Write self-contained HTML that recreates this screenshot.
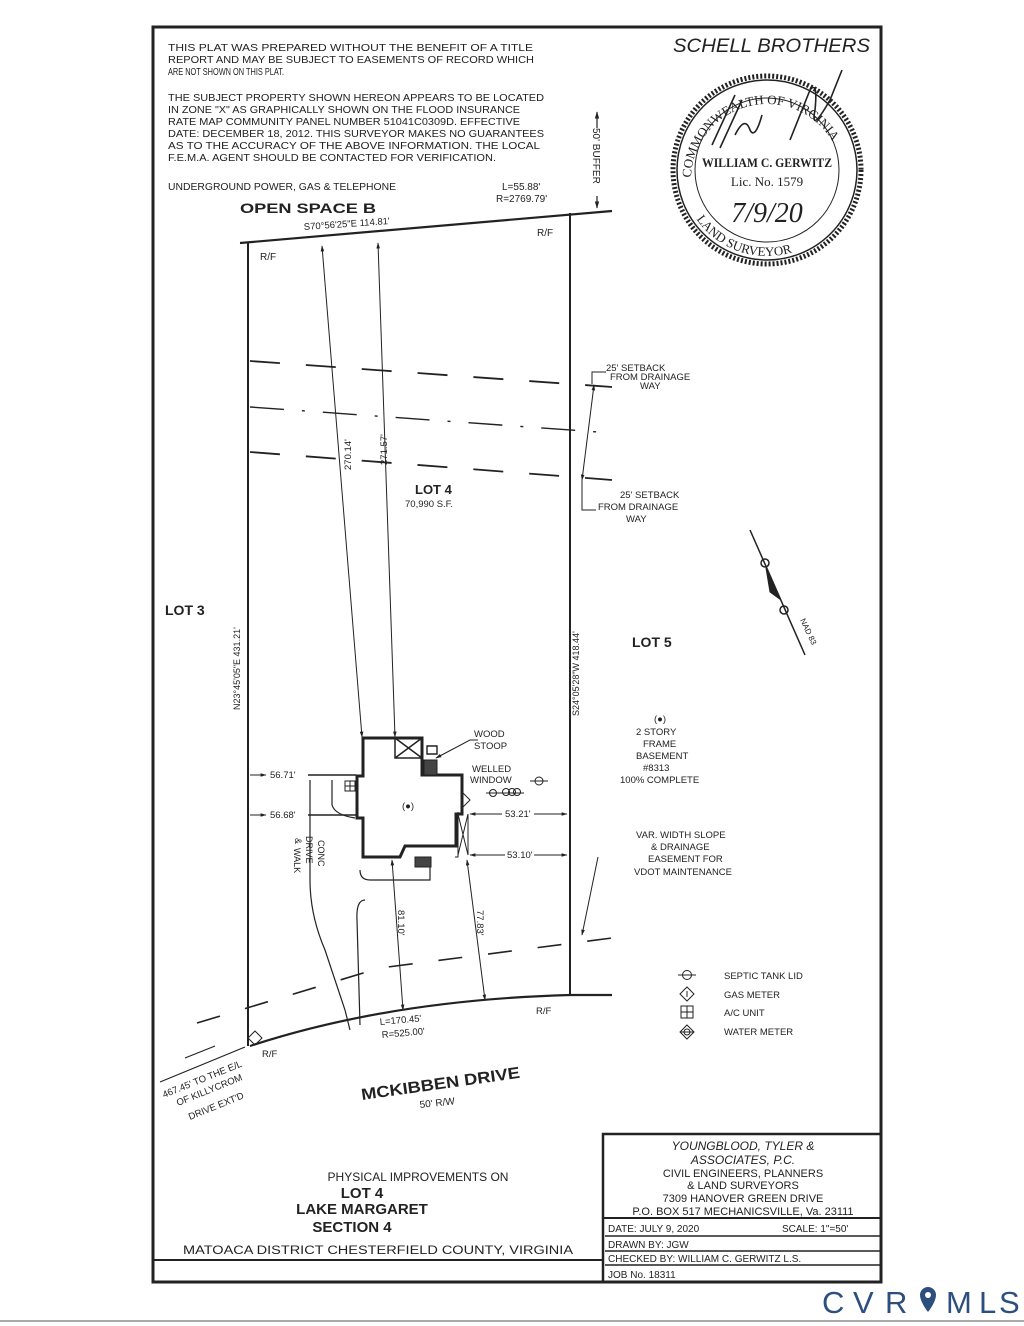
<!DOCTYPE html>
<html><head><meta charset="utf-8"><style>
html,body{margin:0;padding:0;background:#fff;}
svg{display:block;}
text{font-family:"Liberation Sans",sans-serif;fill:#222;}
</style></head><body>
<svg width="1024" height="1326" viewBox="0 0 1024 1326" xmlns="http://www.w3.org/2000/svg">
<defs>
<marker id="ah" viewBox="0 0 10 10" refX="9" refY="5" markerWidth="6" markerHeight="6" orient="auto-start-reverse"><path d="M0,2 L10,5 L0,8 z" fill="#222"/></marker>
</defs>
<rect x="0" y="0" width="1024" height="1326" fill="#fff"/>
<rect x="153" y="27" width="728" height="1255" fill="none" stroke="#222" stroke-width="3"/>
<line x1="0" y1="1321" x2="1024" y2="1321" stroke="#aaa" stroke-width="2"/>

<g font-size="10.5">
<text x="168" y="51" textLength="365" lengthAdjust="spacingAndGlyphs">THIS PLAT WAS PREPARED WITHOUT THE BENEFIT OF A TITLE</text>
<text x="168" y="63" textLength="366" lengthAdjust="spacingAndGlyphs">REPORT AND MAY BE SUBJECT TO EASEMENTS OF RECORD WHICH</text>
<text x="168" y="75" font-size="10" textLength="116" lengthAdjust="spacingAndGlyphs">ARE NOT SHOWN ON THIS PLAT.</text>
<text x="168" y="101" textLength="376" lengthAdjust="spacingAndGlyphs">THE SUBJECT PROPERTY SHOWN HEREON APPEARS TO BE LOCATED</text>
<text x="168" y="113" textLength="352" lengthAdjust="spacingAndGlyphs">IN ZONE "X" AS GRAPHICALLY SHOWN ON THE FLOOD INSURANCE</text>
<text x="168" y="125" textLength="352" lengthAdjust="spacingAndGlyphs">RATE MAP COMMUNITY PANEL NUMBER 51041C0309D. EFFECTIVE</text>
<text x="168" y="137" textLength="376" lengthAdjust="spacingAndGlyphs">DATE: DECEMBER 18, 2012. THIS SURVEYOR MAKES NO GUARANTEES</text>
<text x="168" y="149" textLength="372" lengthAdjust="spacingAndGlyphs">AS TO THE ACCURACY OF THE ABOVE INFORMATION. THE LOCAL</text>
<text x="168" y="161" textLength="328" lengthAdjust="spacingAndGlyphs">F.E.M.A. AGENT SHOULD BE CONTACTED FOR VERIFICATION.</text>
<text x="168" y="190" textLength="228" lengthAdjust="spacingAndGlyphs">UNDERGROUND POWER, GAS &amp; TELEPHONE</text>
<text x="502" y="190" font-size="10">L=55.88'</text>
<text x="496" y="202" font-size="10">R=2769.79'</text>
</g>
<text x="240" y="213" font-size="14" font-weight="bold" textLength="136" lengthAdjust="spacingAndGlyphs">OPEN SPACE B</text>
<text x="304" y="230" font-size="9.5" transform="rotate(-4 304 230)">S70°56'25"E  114.81'</text>
<text x="537" y="236" font-size="10">R/F</text>
<text x="260" y="260" font-size="10">R/F</text>

<line x1="597" y1="112" x2="597" y2="208" stroke="#222" stroke-width="1.2" marker-start="url(#ah)" marker-end="url(#ah)"/>
<rect x="591" y="128" width="12" height="68" fill="#fff"/>
<text x="0" y="0" font-size="10" transform="translate(593,128) rotate(90)">50' BUFFER</text>

<text x="673" y="52" font-size="19" font-style="italic" textLength="197" lengthAdjust="spacingAndGlyphs">SCHELL BROTHERS</text>
<circle cx="767" cy="170" r="94" fill="none" stroke="#222" stroke-width="5" stroke-dasharray="2 2"/>
<circle cx="767" cy="170" r="90" fill="none" stroke="#222" stroke-width="1.5"/>
<circle cx="767" cy="170" r="72" fill="none" stroke="#222" stroke-width="1"/>
<path id="arcT" d="M691,180 A76,76 0 0 1 843,180" fill="none"/>
<text font-size="13" style="font-family:'Liberation Serif',serif"><textPath href="#arcT" startOffset="1%">COMMONWEALTH OF VIRGINIA</textPath></text>
<path id="arcB" d="M692.5,213 A86,86 0 0 0 841.5,213" fill="none"/>
<text font-size="13" style="font-family:'Liberation Serif',serif"><textPath href="#arcB" startOffset="4%">LAND     SURVEYOR</textPath></text>
<text x="767" y="167" font-size="13" text-anchor="middle" style="font-family:'Liberation Serif',serif" font-weight="bold" textLength="130" lengthAdjust="spacingAndGlyphs">WILLIAM C. GERWITZ</text>
<text x="767" y="186" font-size="13" text-anchor="middle" style="font-family:'Liberation Serif',serif">Lic. No. 1579</text>
<text x="767" y="222" font-size="28" text-anchor="middle" font-style="italic" style="font-family:'Liberation Serif',serif">7/9/20</text>
<path d="M712,145 L735,95 M720,148 L742,100 M735,135 q10,-20 15,-5 q5,10 12,-15 M790,140 l20,-50 q8,-10 5,20 q-5,25 15,-10 l12,-30" fill="none" stroke="#222" stroke-width="1.6"/>

<g stroke="#222" fill="none">
<line x1="240" y1="243" x2="612" y2="211" stroke-width="2.2"/>
<line x1="248" y1="242" x2="248" y2="1046" stroke-width="2"/>
<line x1="570" y1="213" x2="570" y2="996" stroke-width="2"/>
<path d="M250,1046 Q390,1000 570,995 L612,995" stroke-width="2.2"/>
<path d="M250,361 L612,387" stroke-width="1.8" stroke-dasharray="30 26"/>
<path d="M250,407 L612,433" stroke-width="1.4" stroke-dasharray="34 18 3 18"/>
<path d="M250,452 L612,480" stroke-width="1.8" stroke-dasharray="30 26"/>
<line x1="582" y1="480" x2="594" y2="385" stroke-width="1" marker-start="url(#ah)" marker-end="url(#ah)"/>
<path d="M592,384 V372 H606 M582,480 V510 H596" stroke-width="1"/>
<line x1="322" y1="246" x2="362" y2="737" stroke-width="1" marker-start="url(#ah)" marker-end="url(#ah)"/>
<line x1="378" y1="243" x2="395" y2="737" stroke-width="1" marker-start="url(#ah)" marker-end="url(#ah)"/>
<line x1="392" y1="860" x2="403" y2="1010" stroke-width="1" marker-start="url(#ah)" marker-end="url(#ah)"/>
<line x1="467" y1="860" x2="485" y2="1000" stroke-width="1" marker-start="url(#ah)" marker-end="url(#ah)"/>
<line x1="250" y1="775" x2="266" y2="775" stroke-width="1" marker-end="url(#ah)"/>
<line x1="308" y1="775" x2="356" y2="775" stroke-width="1.4"/>
<line x1="250" y1="815" x2="266" y2="815" stroke-width="1" marker-end="url(#ah)"/>
<line x1="308" y1="815" x2="356" y2="815" stroke-width="1.4"/>
<line x1="470" y1="814" x2="502" y2="814" stroke-width="1" marker-start="url(#ah)"/>
<line x1="534" y1="814" x2="567" y2="814" stroke-width="1" marker-end="url(#ah)"/>
<line x1="470" y1="855" x2="505" y2="855" stroke-width="1" marker-start="url(#ah)"/>
<line x1="534" y1="855" x2="567" y2="855" stroke-width="1" marker-end="url(#ah)"/>
<path d="M197,1023 L380,968 L612,938" stroke-width="1.6" stroke-dasharray="24 26"/>
<line x1="598" y1="857" x2="582" y2="935" stroke-width="1" marker-end="url(#ah)"/>
<path d="M215,1046 L185,1058 M245,1047 L160,1082" stroke-width="1.2"/>
<path d="M310,780 V880 Q310,915 325,950 L345,1010 L350,1030" stroke-width="1.2"/>
<path d="M332,780 V805 Q335,815 355,818" stroke-width="1.2"/>
<path d="M360,870 Q360,880 370,880 L430,880 V864 M365,900 Q356,900 357,920 L360,1025" stroke-width="1.2"/>
<path d="M363,738 H422 V775 H462 V814 H456 V846 L405,846 L400,857 H363 V818 H357 V776 H363 Z" stroke-width="3"/>
<path d="M395,738 V758 H422 M395,738 L422,758 M422,738 L395,758" stroke-width="1.5"/>
<path d="M427,746 H437 V754 H427 Z" stroke-width="1.4"/>
<rect x="424" y="760" width="13" height="15" fill="#444" stroke-width="1"/>
<path d="M458,812 V857 H455 M458,814 L468,855 M458,855 L468,814 L468,855" stroke-width="1"/>
<path d="M405,846 H458" stroke-width="1.5"/>
<rect x="415" y="857" width="16" height="10" fill="#444" stroke-width="1"/>
<path d="M345,781 h10 v10 h-10 z M350,781 v10 M345,786 h10" stroke-width="1"/>
<path d="M462,792 l8,8 l-8,8" stroke-width="1"/>
<path d="M436,758 L470,740 L478,740" stroke-width="1" marker-start="url(#ah)"/>
<line x1="530" y1="781" x2="548" y2="781" stroke-width="1"/><circle cx="539" cy="781" r="4" stroke-width="1"/>
<line x1="486" y1="793" x2="524" y2="793" stroke-width="1"/>
<circle cx="506" cy="792" r="3.5" stroke-width="1"/><circle cx="512" cy="792" r="3.5" stroke-width="1"/><circle cx="517" cy="792" r="3.5" stroke-width="1"/><circle cx="493" cy="793" r="3.5" stroke-width="1"/>
<line x1="678" y1="975" x2="696" y2="975" stroke-width="1"/><circle cx="687" cy="975" r="4.5" stroke-width="1"/>
<path d="M687,987 l7,7 l-7,7 l-7,-7 z M687,991 v6" stroke-width="1"/>
<path d="M681,1006 h12 v12 h-12 z M687,1006 v12 M681,1012 h12" stroke-width="1"/>
<path d="M687,1025 l7,7 l-7,7 l-7,-7 z M680,1032 h14" stroke-width="1"/>
<circle cx="687" cy="1032" r="3" stroke-width="1"/>
<path d="M255,1031 l7,7 l-7,7 l-7,-7 z" stroke-width="1"/>
<line x1="750" y1="530" x2="805" y2="655" stroke-width="1.5"/>
<circle cx="765" cy="563" r="4" stroke-width="1.5"/>
<circle cx="784" cy="610" r="4" stroke-width="1.5"/>
<path d="M766,568 L781,600 L770,592 Z" fill="#222" stroke-width="1"/>
</g>

<text x="415" y="494" font-size="13" font-weight="bold">LOT 4</text>
<text x="405" y="507" font-size="9.5">70,990 S.F.</text>
<text x="165" y="615" font-size="14" font-weight="bold">LOT 3</text>
<text x="632" y="647" font-size="14" font-weight="bold">LOT 5</text>
<text x="0" y="0" font-size="9.5" transform="translate(351,470) rotate(-90)">270.14'</text>
<text x="0" y="0" font-size="9.5" transform="translate(387,465) rotate(-90)">271.57'</text>
<text x="0" y="0" font-size="9" transform="translate(240,710) rotate(-90)">N23°45'05"E   431.21'</text>
<text x="0" y="0" font-size="9" transform="translate(579,716) rotate(-90)">S24°05'28"W   418.44'</text>
<text x="0" y="0" font-size="9.5" transform="translate(398,910) rotate(90)">81.10'</text>
<text x="0" y="0" font-size="9.5" transform="translate(477,910) rotate(90)">77.83'</text>
<g font-size="9.5">
<text x="606" y="371">25' SETBACK</text>
<text x="610" y="380">FROM DRAINAGE</text>
<text x="640" y="389">WAY</text>
<text x="620" y="498">25' SETBACK</text>
<text x="598" y="510">FROM DRAINAGE</text>
<text x="626" y="522">WAY</text>
<text x="474" y="737">WOOD</text>
<text x="474" y="749">STOOP</text>
<text x="472" y="772">WELLED</text>
<text x="470" y="783">WINDOW</text>
<text x="270" y="778">56.71'</text>
<text x="270" y="818">56.68'</text>
<text x="505" y="817">53.21'</text>
<text x="507" y="858">53.10'</text>
<text x="402" y="809">(●)</text>
<text x="654" y="722">(●)</text>
<text x="636" y="735">2 STORY</text>
<text x="643" y="747">FRAME</text>
<text x="636" y="759">BASEMENT</text>
<text x="643" y="771">#8313</text>
<text x="620" y="783">100% COMPLETE</text>
<text x="636" y="838">VAR. WIDTH SLOPE</text>
<text x="651" y="850">&amp; DRAINAGE</text>
<text x="648" y="862">EASEMENT FOR</text>
<text x="634" y="875">VDOT MAINTENANCE</text>
<text x="724" y="979">SEPTIC TANK LID</text>
<text x="724" y="998">GAS METER</text>
<text x="724" y="1016">A/C UNIT</text>
<text x="724" y="1035">WATER METER</text>
<text x="536" y="1014">R/F</text>
<text x="262" y="1057">R/F</text>
<text x="380" y="1025" transform="rotate(-5 380 1025)">L=170.45'</text>
<text x="382" y="1038" transform="rotate(-5 382 1038)">R=525.00'</text>
</g>
<text x="0" y="0" font-size="9" transform="translate(318,840) rotate(90)">CONC</text>
<text x="0" y="0" font-size="9" transform="translate(306,836) rotate(90)">DRIVE</text>
<text x="0" y="0" font-size="9" transform="translate(295,838) rotate(90)">&amp;</text>
<text x="0" y="0" font-size="9" transform="translate(294,848) rotate(90)">WALK</text>
<text x="0" y="0" font-size="8" transform="translate(800,620) rotate(65)">NAD 83</text>
<g font-size="9.5">
<text x="164" y="1098" transform="rotate(-22 164 1098)">467.45' TO THE E/L</text>
<text x="178" y="1106" transform="rotate(-22 178 1106)">OF KILLYCROM</text>
<text x="190" y="1120" transform="rotate(-22 190 1120)">DRIVE EXT'D</text>
</g>
<text x="362" y="1100" font-size="16" font-weight="bold" transform="rotate(-8 362 1100)" textLength="160" lengthAdjust="spacingAndGlyphs">MCKIBBEN DRIVE</text>
<text x="420" y="1108" font-size="10" transform="rotate(-6 420 1108)">50' R/W</text>

<g stroke="#222" fill="none">
<line x1="153" y1="1260" x2="603" y2="1260" stroke-width="2"/>
<rect x="603" y="1134" width="278" height="148" stroke-width="2.5"/>
<line x1="603" y1="1218" x2="881" y2="1218" stroke-width="2"/>
<line x1="605" y1="1236" x2="881" y2="1236" stroke-width="1.5"/>
<line x1="605" y1="1251" x2="881" y2="1251" stroke-width="1.5"/>
<line x1="605" y1="1265" x2="881" y2="1265" stroke-width="1.5"/>
</g>
<g font-size="11" text-anchor="middle">
<text x="743" y="1150" font-style="italic" font-size="12">YOUNGBLOOD, TYLER &amp;</text>
<text x="743" y="1164" font-style="italic" font-size="12">ASSOCIATES, P.C.</text>
<text x="743" y="1177">CIVIL ENGINEERS, PLANNERS</text>
<text x="743" y="1189">&amp; LAND SURVEYORS</text>
<text x="743" y="1202">7309 HANOVER GREEN DRIVE</text>
<text x="743" y="1215">P.O. BOX 517 MECHANICSVILLE, Va. 23111</text>
<text x="418" y="1181" font-size="12">PHYSICAL IMPROVEMENTS ON</text>
<text x="362" y="1198" font-size="15" font-weight="bold">LOT 4</text>
<text x="362" y="1214" font-size="15" font-weight="bold">LAKE MARGARET</text>
<text x="352" y="1232" font-size="15" font-weight="bold">SECTION 4</text>
</g>
<text x="183" y="1254" font-size="11.5" textLength="390" lengthAdjust="spacingAndGlyphs">MATOACA DISTRICT    CHESTERFIELD COUNTY, VIRGINIA</text>
<g font-size="10">
<text x="608" y="1232">DATE: JULY 9, 2020</text>
<text x="782" y="1232">SCALE: 1"=50'</text>
<text x="608" y="1248">DRAWN BY: JGW</text>
<text x="608" y="1262">CHECKED BY: WILLIAM C. GERWITZ L.S.</text>
<text x="608" y="1278">JOB No. 18311</text>
</g>

<g font-size="31">
<text x="822" y="1313" style="fill:#2d4f80">C</text>
<text x="853" y="1313" style="fill:#2d4f80">V</text>
<text x="885" y="1313" style="fill:#2d4f80">R</text>
<text x="946" y="1313" style="fill:#2d4f80">M</text>
<text x="979" y="1313" style="fill:#2d4f80">L</text>
<text x="999" y="1313" style="fill:#2d4f80">S</text>
</g>
<path d="M928,1287 a8,8 0 0 1 8,8 c0,7 -8,17 -8,17 c0,0 -8,-10 -8,-17 a8,8 0 0 1 8,-8 z" fill="#2d4f80"/>
<circle cx="928" cy="1295" r="3" fill="#fff"/>
</svg>
</body></html>
